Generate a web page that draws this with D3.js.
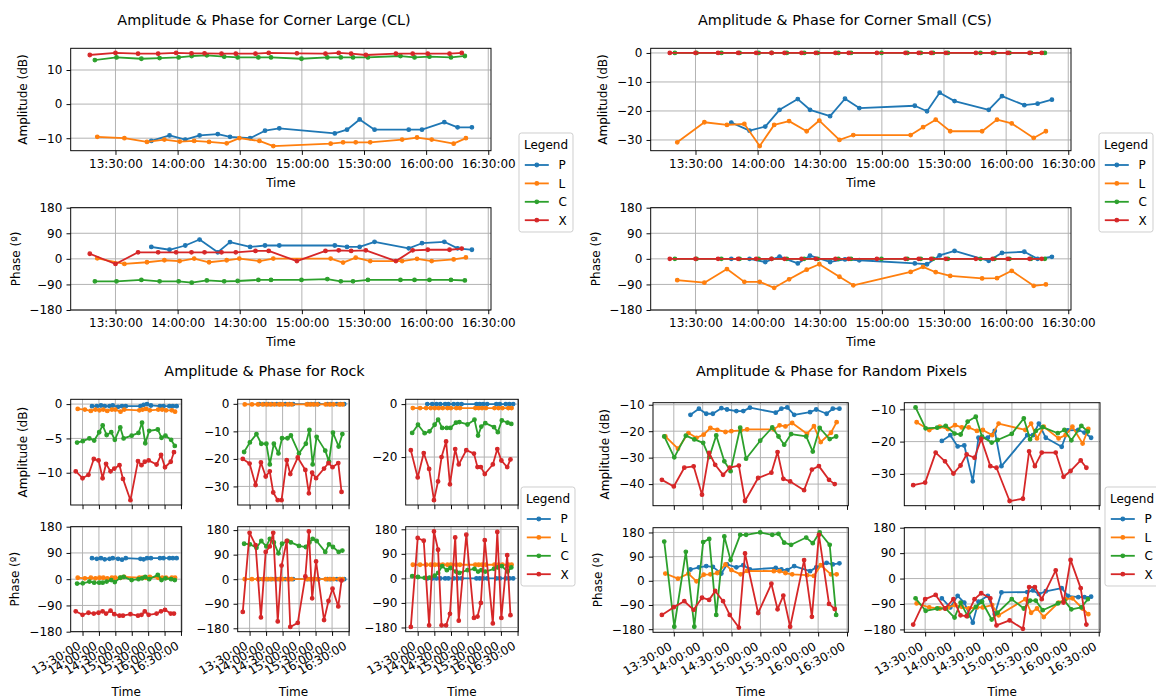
<!DOCTYPE html>
<html>
<head>
<meta charset="utf-8">
<script src="https://cdn.jsdelivr.net/npm/d3@7"></script>
<style>
  body { margin: 0; background: #fff; }
  svg { display: block; font-family: "DejaVu Sans", sans-serif; }
</style>
</head>
<body>
<svg id="chart" width="1156" height="699"></svg>
<script>
// ---- measurement times, shared by every target ----
const timesP = ["13:47:18","13:56:06","14:03:42","14:10:36","14:19:24","14:25:18","14:35:00","14:42:12","14:49:06","15:15:54","15:21:48","15:27:54","15:35:06","15:51:36","15:58:00","16:08:48","16:15:12","16:22:06"];
const timesL = ["13:21:12","13:34:18","13:45:12","13:53:36","14:01:00","14:08:00","14:15:12","14:23:42","14:29:48","14:39:30","14:46:12","15:13:54","15:19:54","15:26:00","15:33:00","15:48:24","15:55:36","16:02:42","16:13:18","16:19:12"];
const timesC = ["13:20:03","13:30:30","13:42:30","13:51:18","14:00:30","14:06:48","14:14:06","14:22:30","14:29:00","14:39:00","14:45:06","14:59:48","15:12:18","15:18:48","15:24:42","15:31:54","15:47:36","15:54:24","16:01:36","16:12:00","16:18:42"];
const timesX = ["13:17:36","13:30:00","13:40:54","13:50:36","13:59:18","14:06:42","14:13:00","14:21:12","14:28:06","14:37:36","14:44:00","14:57:36","15:11:24","15:17:48","15:23:48","15:30:54","15:45:24","15:53:30","16:00:48","16:11:18","16:17:12"];

const seriesNames = ["P", "L", "C", "X"];
const seriesColors = ["#1f77b4", "#ff7f0e", "#2ca02c", "#d62728"];
const timeTickLabels = ["13:30:00","14:00:00","14:30:00","15:00:00","15:30:00","16:00:00","16:30:00"];
const phaseTicks = [-180, -90, 0, 90, 180];

// ---- Corner Large (CL) ----
const clAmpP = [-10.8,-9.2,-10.4,-9.2,-8.8,-9.6,-10.0,-7.8,-7.1,-8.6,-7.5,-4.5,-7.5,-7.5,-7.5,-5.3,-6.8,-6.8];
const clAmpL = [-9.6,-10.0,-11.1,-10.4,-11.0,-10.8,-11.1,-11.5,-10.0,-10.8,-12.3,-11.6,-11.2,-11.2,-11.2,-10.4,-9.8,-10.4,-11.6,-10.0];
const clAmpC = [12.9,13.7,13.3,13.5,13.7,14.1,14.3,13.9,13.7,13.7,13.7,13.3,13.7,13.7,13.7,13.7,14.1,13.7,13.9,13.7,14.1];
const clAmpX = [14.4,15.0,14.8,14.8,15.0,14.9,14.9,14.8,14.8,14.8,15.0,14.9,14.8,15.0,14.8,14.4,14.8,14.8,14.8,14.8,15.0];
const clPhP = [42,32,47,68,23,59,42,47,47,47,42,42,60,37,55,60,37,32];
const clPhL = [2,-18,-12,-5,-8,1,-12,-5,1,-8,1,1,-13,4,-8,-8,0,-8,-2,5];
const clPhC = [-79,-79,-74,-79,-79,-84,-76,-79,-78,-74,-74,-74,-71,-79,-79,-74,-74,-74,-74,-74,-76];
const clPhX = [18,-18,23,23,23,23,23,23,23,28,28,-8,28,30,28,30,-8,30,32,32,36];
const clAmpTicks = [-10, 0, 10];

// ---- Corner Small (CS) ----
const csAmpP = [-24.0,-26.8,-25.4,-19.6,-15.9,-19.6,-21.8,-15.8,-19.0,-18.2,-20.1,-13.7,-16.6,-19.6,-14.9,-18.0,-17.5,-16.1];
const csAmpL = [-30.8,-23.9,-24.8,-24.5,-32.1,-24.8,-23.5,-27.0,-23.3,-30.0,-28.3,-28.3,-25.6,-23.0,-27.0,-27.0,-23.0,-24.3,-29.3,-27.0];
const csAmpC = [0,0,0,0,0,0,0,0,0,0,0,0,0,0,0,0,0,0,0,0,0];
const csAmpX = [0,0,0,0,0,0,0,0,0,0,0,0,0,0,0,0,0,0,0,0,0];
const csPhP = [0,0,-11,8,-16,11,-11,-2,-5,-16,-19,12,28,-7,21,25,0,7];
const csPhL = [-75,-84,-36,-81,-81,-102,-72,-38,-19,-63,-93,-46,-28,-47,-60,-69,-68,-42,-95,-90];
const csPhC = [0,0,0,0,0,0,0,0,0,0,0,0,0,0,0,0,0,0,0,0,0];
const csPhX = [0,0,0,0,0,0,0,0,0,0,0,0,0,0,0,0,0,0,0,0,0];
const csAmpTicks = [-30, -20, -10, 0];

// ---- Rock, three pixels ----
const rock1AmpP = [-0.3,-0.3,-0.2,-0.3,-0.3,-0.2,-0.4,-0.3,-0.3,-0.3,-0.1,0.0,-0.2,-0.3,-0.3,-0.3,-0.3,-0.3];
const rock1AmpL = [-0.7,-0.8,-1.0,-0.8,-0.9,-0.8,-1.0,-0.8,-0.8,-1.1,-0.8,-0.9,-0.8,-0.7,-0.9,-0.8,-0.8,-0.9,-0.9,-1.1];
const rock1AmpC = [-5.6,-5.4,-5.0,-5.3,-4.1,-3.1,-4.5,-4.1,-5.2,-3.4,-5.0,-4.6,-4.2,-2.7,-5.7,-3.9,-3.7,-4.9,-4.6,-5.2,-6.1];
const rock1AmpX = [-9.8,-10.8,-10.3,-8.0,-8.2,-10.8,-8.7,-9.8,-9.4,-8.9,-10.9,-14.0,-8.3,-8.9,-8.4,-8.2,-8.8,-7.4,-9.2,-8.4,-7.0];
const rock1PhP = [72,70,72,68,70,72,70,67,72,70,68,72,72,72,72,72,72,72];
const rock1PhL = [5,3,5,3,5,5,3,5,5,5,8,5,5,5,8,5,5,5,5,5];
const rock1PhC = [-15,-14,-8,-12,-12,-12,-8,-3,-10,5,8,-3,0,3,8,0,15,-3,3,0,-3];
const rock1PhX = [-110,-122,-115,-118,-115,-110,-118,-108,-120,-125,-125,-120,-125,-122,-110,-122,-118,-110,-105,-118,-118];
const rock1AmpTicks = [-10, -5, 0];

const rock2AmpP = [-0.1,-0.1,-0.1,-0.1,-0.1,-0.1,-0.1,-0.1,-0.1,-0.1,-0.1,-0.1,-0.1,-0.1,-0.1,-0.1,-0.1,-0.1];
const rock2AmpL = [-0.2,-0.2,-0.2,-0.2,-0.2,-0.2,-0.2,-0.2,-0.2,-0.2,-0.2,-0.2,-0.2,-0.2,-0.2,-0.2,-0.2,-0.2,-0.2,-0.2];
const rock2AmpC = [-17.5,-14,-11,-14.5,-14.5,-22,-14.5,-18,-12.5,-12.5,-11.5,-18,-14.5,-9.5,-22,-12,-17,-21,-10.5,-15.5,-11];
const rock2AmpX = [-20,-21.7,-29.5,-21.3,-26.4,-24.5,-32.2,-35,-35,-20.5,-25.5,-19.5,-24,-32.5,-25,-27,-23.5,-21.5,-23,-21.5,-32];
const rock2PhP = [0,0,0,0,0,0,0,0,0,0,0,0,0,0,0,0,0,0];
const rock2PhL = [0,0,0,0,0,0,0,0,0,0,0,0,0,0,0,0,0,0,0,0];
const rock2PhC = [130,128,115,140,120,148,135,95,130,140,135,122,118,135,148,140,100,128,118,100,105];
const rock2PhX = [-120,170,125,-140,100,120,170,-155,50,140,-175,-160,10,175,-70,65,-150,-80,-35,-100,-5];
const rock2AmpTicks = [-30, -20, -10, 0];

const rock3AmpP = [0,0,0,0,0,0,0,0,0,0,0,0,0,0,0,0,0,0];
const rock3AmpL = [-1.5,-1.5,-1.5,-1.5,-1.5,-1.5,-1.5,-1.5,-1.5,-1.5,-1.5,-1.5,-1.5,-1.5,-1.5,-1.5,-1.5,-1.5,-1.5,-1.5];
const rock3AmpC = [-10.9,-7.8,-11,-10.3,-7.8,-5.9,-9,-9,-9,-7,-6.8,-7.7,-5.9,-11.9,-8.5,-7.2,-8.7,-10.6,-6.2,-7,-7.5];
const rock3AmpX = [-17.4,-27.7,-18.5,-24.5,-36.3,-29.2,-20,-14.1,-30.3,-17,-22.8,-17.4,-18.7,-23.8,-23.8,-26.4,-22.8,-17,-21.3,-23.8,-20.9];
const rock3PhP = [0,0,0,0,0,0,0,0,0,0,0,0,0,0,0,0,0,0];
const rock3PhL = [50,50,50,50,50,50,50,50,50,50,50,50,50,50,50,50,50,50,50,50];
const rock3PhC = [8,5,2,3,10,20,45,30,38,25,20,30,35,25,30,25,35,40,45,25,40];
const rock3PhX = [-178,148,138,-172,172,105,-172,-172,-130,150,-155,160,-145,-140,-90,140,-165,170,-145,85,-135];
const rock3AmpTicks = [-20, 0];

// ---- Random pixels, two pixels ----
const rand1AmpP = [-13.8,-11.5,-13.4,-13.4,-11.3,-11.8,-12.4,-12.4,-11.1,-13.0,-11.5,-11.0,-13.8,-12.8,-11.8,-13.4,-11.5,-11.5];
const rand1AmpL = [-22.0,-26.6,-20.7,-22.5,-21.3,-18.8,-19.5,-20.3,-20.0,-19.7,-19.3,-19.3,-17.8,-18.2,-16.9,-21.0,-18.1,-24.1,-20.6,-16.6];
const rand1AmpC = [-22.0,-29.9,-21.7,-23.1,-24.4,-29.8,-21.6,-31.4,-35.1,-18.7,-30.4,-23.6,-18.6,-22.0,-25.1,-21.1,-22.0,-27.7,-18.8,-23.0,-22.0];
const rand1AmpX = [-38.4,-40.9,-33.8,-33.3,-44.0,-28.2,-32.7,-36.5,-33.8,-33.0,-46.4,-37.7,-35.7,-27.9,-38.0,-39.0,-42.3,-34.5,-33.2,-38.4,-40.0];
const rand1PhP = [42,50,55,52,27,61,50,58,42,48,42,40,55,36,50,67,61,65];
const rand1PhL = [27,8,27,-2,23,24,29,61,40,24,37,36,36,29,24,21,18,58,24,24];
const rand1PhC = [146,-171,108,-171,144,156,-127,165,77,171,171,180,171,175,142,134,161,140,180,134,-127];
const rand1PhX = [-127,-98,-76,-108,-63,-71,-38,-76,-127,-174,102,-120,-11,-106,-55,-171,77,-134,171,-86,-105];
const rand1AmpTicks = [-40, -30, -20, -10];

const rand2AmpP = [-19.8,-18.0,-21.5,-21.2,-32.3,-18.8,-18.8,-16.7,-27.6,-18.0,-18.0,-14.4,-18.8,-21.6,-16.5,-16.4,-17.2,-18.8];
const rand2AmpL = [-14.0,-16.4,-15.4,-16.1,-14.9,-15.6,-15.6,-16.7,-16.4,-18.0,-14.4,-16.4,-14.4,-19.0,-15.4,-19.0,-18.0,-15.4,-20.6,-16.1];
const rand2AmpC = [-9.4,-15.9,-15.7,-15.1,-17.5,-17.8,-13.8,-12.3,-18.5,-20.3,-19.5,-17.6,-12.8,-19.3,-16.7,-15.5,-17.4,-16.4,-19.6,-15.1,-16.9];
const rand2AmpX = [-33.5,-32.7,-23.4,-26.1,-29.9,-27.4,-24.0,-25.0,-19.2,-27.6,-28.1,-38.4,-37.7,-23.0,-27.6,-23.4,-23.4,-30.9,-29.1,-25.8,-28.1];
const rand2PhP = [-70,-102,-61,-85,-156,-82,-61,-126,-49,-48,-42,-55,-45,-34,-61,-66,-66,-64];
const rand2PhL = [-88,-102,-106,-102,-94,-100,-106,-102,-102,-94,-130,-73,-121,-106,-136,-85,-73,-70,-106,-126];
const rand2PhC = [-70,-114,-106,-106,-138,-85,-133,-100,-82,-145,-121,-73,-106,-78,-78,-112,-88,-78,-109,-102,-73];
const rand2PhX = [-163,-73,-58,-106,-73,-130,-133,-73,-52,-70,-166,-148,-178,-30,-30,-73,29,-85,66,-34,-163];
const rand2AmpTicks = [-30, -20, -10];

// ---- layout ----
const seriesTimes = [timesP, timesL, timesC, timesX];
const FS = 12;        // tick / label font size
const TICK = 4.2;     // tick length
const PAD = 4.2;      // tick label padding

const groups = [
  { title: "Amplitude & Phase for Corner Large (CL)", tx: 264, ty: 25, legend: [519, 133], cover: null,
    amp: [48.3, 150.7], ph: [207.7, 310], rotate: false,
    ampLabelX: 22.5, phLabelX: 15.5, timeY: [182.5, 342],
    cols: [{ x: [70.7, 491], amp: [clAmpP, clAmpL, clAmpC, clAmpX], ph: [clPhP, clPhL, clPhC, clPhX], ticks: clAmpTicks }] },
  { title: "Amplitude & Phase for Corner Small (CS)", tx: 845, ty: 25, legend: [1099, 133], cover: [578, 0, 578, 352],
    amp: [48.3, 150.7], ph: [207.7, 310], rotate: false,
    ampLabelX: 602.5, phLabelX: 595.5, timeY: [182.5, 342],
    cols: [{ x: [650.7, 1071], amp: [csAmpP, csAmpL, csAmpC, csAmpX], ph: [csPhP, csPhL, csPhC, csPhX], ticks: csAmpTicks }] },
  { title: "Amplitude & Phase for Rock", tx: 264.5, ty: 376, legend: [521, 487], cover: null,
    amp: [399.3, 505], ph: [526.7, 631.7], rotate: true,
    ampLabelX: 22.7, phLabelX: 15, timeY: [692, 692],
    cols: [
      { x: [70.7, 181.7], amp: [rock1AmpP, rock1AmpL, rock1AmpC, rock1AmpX], ph: [rock1PhP, rock1PhL, rock1PhC, rock1PhX], ticks: rock1AmpTicks },
      { x: [237.7, 349.3], amp: [rock2AmpP, rock2AmpL, rock2AmpC, rock2AmpX], ph: [rock2PhP, rock2PhL, rock2PhC, rock2PhX], ticks: rock2AmpTicks },
      { x: [405.7, 518.3], amp: [rock3AmpP, rock3AmpL, rock3AmpC, rock3AmpX], ph: [rock3PhP, rock3PhL, rock3PhC, rock3PhX], ticks: rock3AmpTicks }
    ] },
  { title: "Amplitude & Phase for Random Pixels", tx: 831.5, ty: 376, legend: [1105, 487], cover: [578, 352, 578, 347],
    amp: [402.7, 505.7], ph: [527.7, 632.3], rotate: true,
    ampLabelX: 605, phLabelX: 598, timeY: [692, 692],
    cols: [
      { x: [653, 848.3], amp: [rand1AmpP, rand1AmpL, rand1AmpC, rand1AmpX], ph: [rand1PhP, rand1PhL, rand1PhC, rand1PhX], ticks: rand1AmpTicks },
      { x: [904.3, 1100], amp: [rand2AmpP, rand2AmpL, rand2AmpC, rand2AmpX], ph: [rand2PhP, rand2PhL, rand2PhC, rand2PhX], ticks: rand2AmpTicks }
    ] }
];

const parseT = d3.timeParse("%H:%M:%S");
const fmtT = d3.timeFormat("%H:%M:%S");
const fmtV = d3.format("d");
const svg = d3.select("#chart");

// one axes: grid, four series, spines, ticks.  labelMode: "flat" | "rotated" | "none"
function drawAxes(g, xr, yr, values, yTicks, isPhase, labelMode) {
  // time scale: data extent with 5 % margins
  const allT = seriesTimes.flat().map(parseT);
  const [t0, t1] = d3.extent(allT);
  const tm = (t1 - t0) * 0.05;
  const x = d3.scaleTime().domain([new Date(+t0 - tm), new Date(+t1 + tm)]).range(xr);

  const [v0, v1] = d3.extent(values.flat());
  const vm = (v1 - v0) * 0.05 || 1;
  let dom = [v0 - vm, v1 + vm];
  if (isPhase) dom = [Math.min(dom[0], -180), Math.max(dom[1], 180)];
  const y = d3.scaleLinear().domain(dom).range([yr[1], yr[0]]);

  const ax = g.append("g");
  ax.append("rect").attr("x", xr[0]).attr("y", yr[0])
    .attr("width", xr[1] - xr[0]).attr("height", yr[1] - yr[0]).attr("fill", "#fff");

  const tTicks = timeTickLabels.map(parseT);
  const grid = ax.append("g").attr("stroke", "#b0b0b0").attr("stroke-width", 0.96);
  grid.selectAll("line.v").data(tTicks).join("line")
    .attr("x1", d => x(d)).attr("x2", d => x(d)).attr("y1", yr[0]).attr("y2", yr[1]);
  grid.selectAll("line.h").data(yTicks).join("line")
    .attr("y1", d => y(d)).attr("y2", d => y(d)).attr("x1", xr[0]).attr("x2", xr[1]);

  // series lines + point markers
  values.forEach((vals, i) => {
    const pts = vals.map((v, j) => [parseT(seriesTimes[i][j]), v]);
    const sg = ax.append("g");
    sg.append("path").datum(pts)
      .attr("fill", "none").attr("stroke", seriesColors[i]).attr("stroke-width", 1.8)
      .attr("stroke-linejoin", "round").attr("stroke-linecap", "square")
      .attr("d", d3.line().x(d => x(d[0])).y(d => y(d[1])));
    sg.selectAll("circle").data(pts).join("circle")
      .attr("cx", d => x(d[0])).attr("cy", d => y(d[1])).attr("r", 1.8)
      .attr("fill", seriesColors[i]).attr("stroke", seriesColors[i]).attr("stroke-width", 1.2);
  });

  // spines
  ax.append("rect").attr("x", xr[0]).attr("y", yr[0])
    .attr("width", xr[1] - xr[0]).attr("height", yr[1] - yr[0])
    .attr("fill", "none").attr("stroke", "#000").attr("stroke-width", 0.96);

  const xa = ax.append("g").attr("transform", `translate(0,${yr[1]})`)
    .call(d3.axisBottom(x).tickValues(tTicks).tickFormat(fmtT).tickSize(TICK).tickPadding(PAD).tickSizeOuter(0));
  const ya = ax.append("g").attr("transform", `translate(${xr[0]},0)`)
    .call(d3.axisLeft(y).tickValues(yTicks).tickFormat(fmtV).tickSize(TICK).tickPadding(PAD).tickSizeOuter(0));
  [xa, ya].forEach(a => {
    a.select(".domain").remove();
    a.attr("font-family", null).attr("font-size", FS);
    a.selectAll("line").attr("stroke", "#000").attr("stroke-width", 0.96);
    a.selectAll("text").attr("fill", "#000");
  });
  if (labelMode === "rotated") {
    xa.selectAll("text")
      .attr("x", null).attr("y", null).attr("dy", null)
      .attr("text-anchor", "end")
      .attr("transform", `translate(-1.5,${TICK + PAD + 8.2}) rotate(-30)`);
  } else if (labelMode === "none") {
    xa.selectAll("text").remove();
  }
}

function drawLegend(x0, y0) {
  const lg = svg.append("g").attr("font-size", FS);
  lg.append("rect").attr("x", x0).attr("y", y0).attr("width", 54).attr("height", 99)
    .attr("rx", 2.5).attr("fill", "#fff").attr("fill-opacity", 0.8)
    .attr("stroke", "#cccccc").attr("stroke-width", 0.96);
  lg.append("text").attr("x", x0 + 27).attr("y", y0 + 16.3).attr("text-anchor", "middle").text("Legend");
  seriesNames.forEach((name, i) => {
    const cy = y0 + 32 + i * 18.4;
    lg.append("line").attr("x1", x0 + 5.8).attr("x2", x0 + 29.8).attr("y1", cy).attr("y2", cy)
      .attr("stroke", seriesColors[i]).attr("stroke-width", 1.8);
    lg.append("circle").attr("cx", x0 + 17.8).attr("cy", cy).attr("r", 1.8)
      .attr("fill", seriesColors[i]).attr("stroke", seriesColors[i]).attr("stroke-width", 1.2);
    lg.append("text").attr("x", x0 + 39.4).attr("y", cy + 4.3).text(name);
  });
}

groups.forEach(gr => {
  const g = svg.append("g");
  if (gr.cover) g.append("rect").attr("x", gr.cover[0]).attr("y", gr.cover[1])
    .attr("width", gr.cover[2]).attr("height", gr.cover[3]).attr("fill", "#fff");
  g.append("text").attr("x", gr.tx).attr("y", gr.ty).attr("text-anchor", "middle")
    .attr("font-size", 14.4).text(gr.title);

  gr.cols.forEach(col => {
    drawAxes(g, col.x, gr.amp, col.amp, col.ticks, false, gr.rotate ? "none" : "flat");
    drawAxes(g, col.x, gr.ph, col.ph, phaseTicks, true, gr.rotate ? "rotated" : "flat");
    const cx = (col.x[0] + col.x[1]) / 2;
    g.append("text").attr("x", cx).attr("y", gr.timeY[0] + 4.3).attr("text-anchor", "middle")
      .attr("font-size", FS).text("Time");
    if (!gr.rotate) {
      g.append("text").attr("x", cx).attr("y", gr.timeY[1] + 4.3).attr("text-anchor", "middle")
        .attr("font-size", FS).text("Time");
    }
  });

  const ampMid = (gr.amp[0] + gr.amp[1]) / 2, phMid = (gr.ph[0] + gr.ph[1]) / 2;
  g.append("text").attr("transform", `translate(${gr.ampLabelX + 4.3},${ampMid}) rotate(-90)`)
    .attr("text-anchor", "middle").attr("font-size", FS).text("Amplitude (dB)");
  g.append("text").attr("transform", `translate(${gr.phLabelX + 4.3},${phMid}) rotate(-90)`)
    .attr("text-anchor", "middle").attr("font-size", FS).text("Phase (º)");

  drawLegend(gr.legend[0], gr.legend[1]);
});
</script>
</body>
</html>
